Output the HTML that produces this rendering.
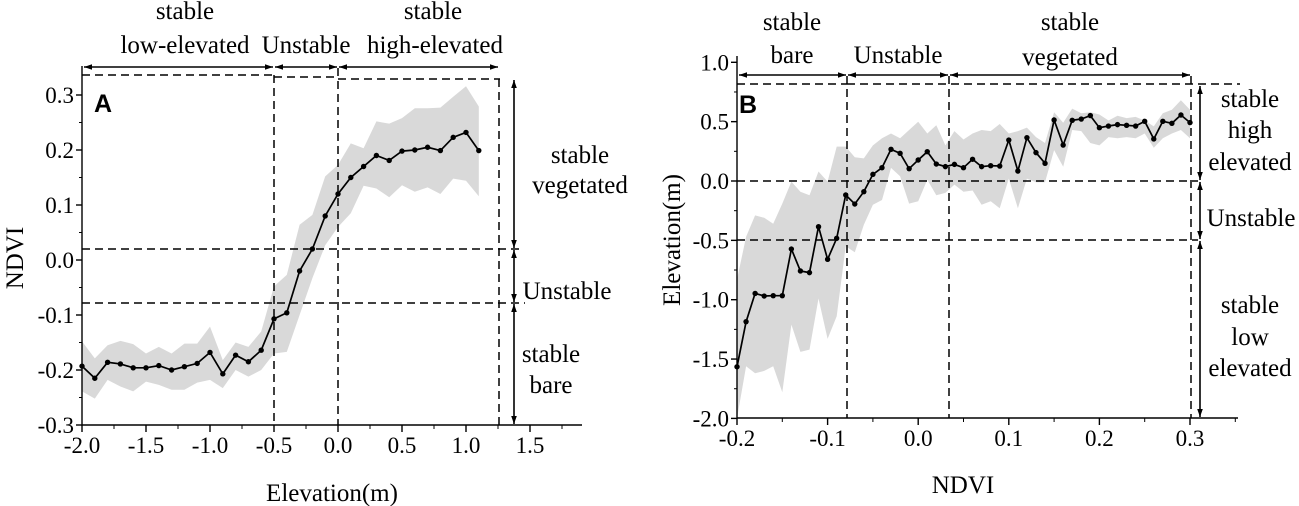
<!DOCTYPE html>
<html><head><meta charset="utf-8">
<style>
html,body{margin:0;padding:0;background:#fff;}
svg{display:block;font-family:"Liberation Serif",serif;}
</style></head>
<body>
<svg id="chart" width="1299" height="506" viewBox="0 0 1299 506" xmlns="http://www.w3.org/2000/svg">
<defs>
<marker id="ah" viewBox="0 0 10 10" refX="10" refY="5" markerWidth="8" markerHeight="8" orient="auto-start-reverse" markerUnits="userSpaceOnUse"><path d="M0,1.5 L10,5 L0,8.5 Z" fill="#000"/></marker>
</defs>
<g id="panelA"></g>
<g id="panelB"></g>
</svg>
<script>
// Panel A data: elevation (x) vs NDVI (y)
const aElev = [-2.0,-1.9,-1.8,-1.7,-1.6,-1.5,-1.4,-1.3,-1.2,-1.1,-1.0,-0.9,-0.8,-0.7,-0.6,-0.5,-0.4,-0.3,-0.2,-0.1,0.0,0.1,0.2,0.3,0.4,0.5,0.6,0.7,0.8,0.9,1.0,1.1];
const aNdvi = [-0.193,-0.215,-0.186,-0.189,-0.196,-0.196,-0.192,-0.2,-0.194,-0.188,-0.168,-0.207,-0.173,-0.185,-0.164,-0.107,-0.096,-0.02,0.02,0.08,0.12,0.15,0.17,0.19,0.181,0.198,0.2,0.205,0.199,0.223,0.232,0.199];
const aUpper = [-0.148,-0.179,-0.155,-0.147,-0.153,-0.17,-0.158,-0.17,-0.152,-0.152,-0.121,-0.182,-0.15,-0.158,-0.13,-0.048,-0.027,0.064,0.082,0.152,0.173,0.212,0.203,0.252,0.248,0.258,0.276,0.276,0.277,0.297,0.316,0.279];
const aLower = [-0.239,-0.252,-0.218,-0.23,-0.239,-0.221,-0.227,-0.236,-0.236,-0.223,-0.218,-0.233,-0.2,-0.212,-0.2,-0.17,-0.167,-0.1,-0.033,0.027,0.06,0.085,0.135,0.13,0.114,0.136,0.124,0.132,0.12,0.148,0.144,0.116];
const aXTicks = [-2.0,-1.5,-1.0,-0.5,0.0,0.5,1.0,1.5];
const aXTickLabels = ["-2.0","-1.5","-1.0","-0.5","0.0","0.5","1.0","1.5"];
const aYTicks = [0.3,0.2,0.1,0.0,-0.1,-0.2,-0.3];
const aYTickLabels = ["0.3","0.2","0.1","0.0","-0.1","-0.2","-0.3"];

// Panel B data: NDVI (x) vs elevation (y)
const bNdvi = [-0.2,-0.19,-0.18,-0.17,-0.16,-0.15,-0.14,-0.13,-0.12,-0.11,-0.1,-0.09,-0.08,-0.07,-0.06,-0.05,-0.04,-0.03,-0.02,-0.01,0.0,0.01,0.02,0.03,0.04,0.05,0.06,0.07,0.08,0.09,0.1,0.11,0.12,0.13,0.14,0.15,0.16,0.17,0.18,0.19,0.2,0.21,0.22,0.23,0.24,0.25,0.26,0.27,0.28,0.29,0.3];
const bElev = [-1.565,-1.185,-0.947,-0.969,-0.966,-0.966,-0.573,-0.758,-0.772,-0.385,-0.66,-0.483,-0.118,-0.194,-0.09,0.056,0.112,0.267,0.233,0.104,0.177,0.247,0.143,0.121,0.14,0.112,0.183,0.121,0.129,0.126,0.345,0.084,0.365,0.239,0.149,0.514,0.303,0.511,0.522,0.551,0.449,0.463,0.475,0.469,0.463,0.503,0.354,0.503,0.486,0.556,0.492];
const bUpper = [-0.83,-0.47,-0.29,-0.31,-0.36,-0.19,-0.005,-0.09,-0.12,0.08,-0.005,0.29,0.29,0.2,0.19,0.3,0.36,0.4,0.36,0.43,0.5,0.4,0.47,0.3,0.42,0.35,0.4,0.43,0.42,0.48,0.4,0.42,0.45,0.37,0.32,0.58,0.49,0.61,0.57,0.58,0.56,0.51,0.55,0.53,0.54,0.51,0.46,0.57,0.6,0.68,0.6];
const bLower = [-2.0,-1.56,-1.62,-1.6,-1.56,-1.78,-1.21,-1.44,-1.42,-0.99,-1.33,-1.14,-0.55,-0.6,-0.37,-0.2,-0.16,0.11,0.04,-0.19,-0.17,0.01,-0.12,-0.1,-0.03,-0.09,-0.08,-0.2,-0.17,-0.23,0.02,-0.23,0.02,-0.01,-0.01,0.26,0.12,0.43,0.42,0.32,0.3,0.37,0.36,0.37,0.36,0.4,0.28,0.36,0.4,0.43,0.36];
const bXTicks = [-0.2,-0.1,0.0,0.1,0.2,0.3];
const bXTickLabels = ["-0.2","-0.1","0.0","0.1","0.2","0.3"];
const bYTicks = [1.0,0.5,0.0,-0.5,-1.0,-1.5,-2.0];
const bYTickLabels = ["1.0","0.5","0.0","-0.5","-1.0","-1.5","-2.0"];

const NS = "http://www.w3.org/2000/svg";
function mk(parent, tag, attrs, text){
  const e = document.createElementNS(NS, tag);
  for (const k in attrs) e.setAttribute(k, attrs[k]);
  if (text !== undefined) e.textContent = text;
  parent.appendChild(e);
  return e;
}

const axA = v => 82 + (v + 2) * 128;
const ayA = v => 260 - v * 550;
const axB = v => 737 + (v + 0.2) * 906;
const ayB = v => 181 - v * 118.7;

function drawPanel(g, sx, sy, xs, ys, up, lo, xt, xtl, yt, ytl, minorX, minorY, x0, x1, y0, y1, pfx){
  let d = "";
  for (let i=0;i<xs.length;i++) d += (i?"L":"M") + sx(xs[i]).toFixed(1) + "," + sy(up[i]).toFixed(1);
  for (let i=xs.length-1;i>=0;i--) d += "L" + sx(xs[i]).toFixed(1) + "," + sy(lo[i]).toFixed(1);
  const band = mk(g,"path",{d:d+"Z",fill:"#d9d9d9",stroke:"none"});
  
  
  const ax = mk(g,"path",{d:`M${x0},${y1} L${x0},${y0} L${x1},${y0}`,fill:"none",stroke:"#000","stroke-width":1.4});
  
  
  for (let i=0;i<xt.length;i++){
    const X = sx(xt[i]);
    const t = mk(g,"line",{x1:X,y1:y0,x2:X,y2:y0+7,stroke:"#000","stroke-width":1.4});
    
    
    const l = mk(g,"text",{x:X,y:y0+28,"font-size":23,"text-anchor":"middle"},xtl[i]);
    
    
  }
  for (const v of minorX){
    const t = mk(g,"line",{x1:sx(v),y1:y0,x2:sx(v),y2:y0+4,stroke:"#000","stroke-width":1});
    
    
  }
  for (let i=0;i<yt.length;i++){
    const Y = sy(yt[i]);
    const t = mk(g,"line",{x1:x0-6,y1:Y,x2:x0,y2:Y,stroke:"#000","stroke-width":1.4});
    
    
    const l = mk(g,"text",{x:x0-8,y:Y+8,"font-size":23,"text-anchor":"end"},ytl[i]);
    
    
  }
  for (const v of minorY){
    const t = mk(g,"line",{x1:x0-3,y1:sy(v),x2:x0,y2:sy(v),stroke:"#000","stroke-width":1});
    
    
  }
  let ld = "";
  for (let i=0;i<xs.length;i++) ld += (i?"L":"M") + sx(xs[i]).toFixed(1) + "," + sy(ys[i]).toFixed(1);
  const ln = mk(g,"path",{d:ld,fill:"none",stroke:"#000","stroke-width":1.7});
  
  
  for (let i=0;i<xs.length;i++){
    const c = mk(g,"circle",{cx:sx(xs[i]),cy:sy(ys[i]),r:2.7,fill:"#000"});
    
    
  }
}

function dash(g, x1,y1,x2,y2,name){
  const l = mk(g,"line",{x1,y1,x2,y2,stroke:"#000","stroke-width":1.5,"stroke-dasharray":"8,5"});
  
  
}
function arrow(g, x1,y1,x2,y2,name){
  const l = mk(g,"line",{x1,y1,x2,y2,stroke:"#000","stroke-width":1.6,"marker-start":"url(#ah)","marker-end":"url(#ah)"});
  
  
}
function label(g, x,y,txt,name,opts){
  const t = mk(g,"text",Object.assign({x,y,"font-size":25,"text-anchor":"middle"},opts||{}),txt);
  
  
}

// ---------- Panel A ----------
const gA = document.getElementById("panelA");
drawPanel(gA, axA, ayA, aElev, aNdvi, aUpper, aLower, aXTicks, aXTickLabels, aYTicks, aYTickLabels,
  [-1.75,-1.25,-0.75,-0.25,0.25,0.75,1.25,1.75],[0.25,0.15,0.05,-0.05,-0.15,-0.25],
  82, 582, 425, 66, "a");
dash(gA, 82,75,274,75,"a-top-dashed-1");
dash(gA, 274,77,338,77,"a-top-dashed-2");
dash(gA, 338,79,500,79,"a-top-dashed-3");
dash(gA, 274,75,274,425,"a-vertical-dashed-neg05");
dash(gA, 338,68,338,425,"a-vertical-dashed-0");
dash(gA, 499,79,499,425,"a-vertical-dashed-right");
dash(gA, 82,249,520,249,"a-horizontal-dashed-upper");
dash(gA, 82,303,525,303,"a-horizontal-dashed-lower");
arrow(gA, 84,67,273,67,"a-arrow-low");
arrow(gA, 275,67,337,67,"a-arrow-unstable");
arrow(gA, 339,67,498,67,"a-arrow-high");
arrow(gA, 514,80,514,248,"a-arrow-vegetated");
arrow(gA, 514,250,514,302,"a-arrow-unstable-v");
arrow(gA, 514,304,514,424,"a-arrow-bare");
label(gA, 185,19,"stable","a-label-stable-low");
label(gA, 185,53,"low-elevated","a-label-low-elevated");
label(gA, 306,53,"Unstable","a-label-unstable-top");
label(gA, 433,19,"stable","a-label-stable-high");
label(gA, 435,53,"high-elevated","a-label-high-elevated");
label(gA, 580,163,"stable","a-label-stable-veg");
label(gA, 580,193,"vegetated","a-label-vegetated");
label(gA, 567,299,"Unstable","a-label-unstable-right");
label(gA, 551,362,"stable","a-label-stable-bare");
label(gA, 551,393,"bare","a-label-bare");
label(gA, 94,112,"A","a-panel-letter",{"font-family":"Liberation Sans, sans-serif","font-weight":"bold","font-size":25,"text-anchor":"start"});
label(gA, 332,501,"Elevation(m)","a-x-axis-title");
label(gA, 0,0,"NDVI","a-y-axis-title",{transform:"translate(23,258) rotate(-90)"});

// ---------- Panel B ----------
const gB = document.getElementById("panelB");
drawPanel(gB, axB, ayB, bNdvi, bElev, bUpper, bLower, bXTicks, bXTickLabels, bYTicks, bYTickLabels,
  [-0.15,-0.05,0.05,0.15,0.25,0.35],[0.75,0.25,-0.25,-0.75,-1.25,-1.75],
  737, 1238, 418, 56, "b");
dash(gB, 737,84,847,84,"b-top-dashed-1");
dash(gB, 847,84,1240,84,"b-top-dashed-2");
dash(gB, 847,76,847,418,"b-vertical-dashed-bare");
dash(gB, 949,76,949,418,"b-vertical-dashed-veg");
dash(gB, 1191,76,1191,418,"b-vertical-dashed-right");
dash(gB, 737,181,1198,181,"b-horizontal-dashed-0");
dash(gB, 737,240,1198,240,"b-horizontal-dashed-neg05");
arrow(gB, 739,75,846,75,"b-arrow-bare");
arrow(gB, 848,75,948,75,"b-arrow-unstable");
arrow(gB, 950,75,1190,75,"b-arrow-vegetated");
arrow(gB, 1200,86,1200,180,"b-arrow-high");
arrow(gB, 1200,182,1200,239,"b-arrow-unstable-v");
arrow(gB, 1200,241,1200,417,"b-arrow-low");
label(gB, 792,30,"stable","b-label-stable-bare");
label(gB, 792,63,"bare","b-label-bare");
label(gB, 898,63,"Unstable","b-label-unstable-top");
label(gB, 1070,30,"stable","b-label-stable-veg");
label(gB, 1070,65,"vegetated","b-label-vegetated");
label(gB, 1250,107,"stable","b-label-stable-high");
label(gB, 1250,138,"high","b-label-high");
label(gB, 1250,170,"elevated","b-label-elevated-high");
label(gB, 1251,226,"Unstable","b-label-unstable-right");
label(gB, 1250,313,"stable","b-label-stable-low");
label(gB, 1250,345,"low","b-label-low");
label(gB, 1250,376,"elevated","b-label-elevated-low");
label(gB, 739,113,"B","b-panel-letter",{"font-family":"Liberation Sans, sans-serif","font-weight":"bold","font-size":25,"text-anchor":"start"});
label(gB, 963,493,"NDVI","b-x-axis-title");
label(gB, 0,0,"Elevation(m)","b-y-axis-title",{transform:"translate(680,240) rotate(-90)"});
</script>
</body></html>
